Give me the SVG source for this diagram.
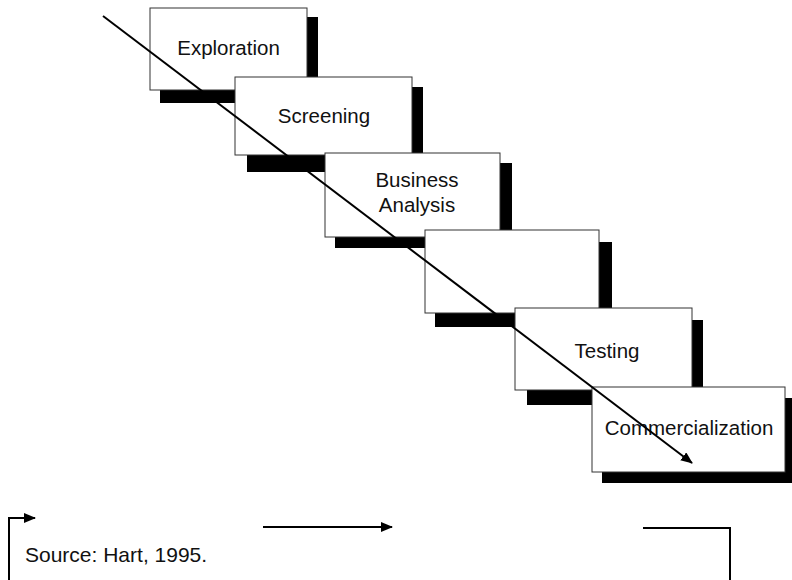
<svg xmlns="http://www.w3.org/2000/svg" width="792" height="580" viewBox="0 0 792 580">
<style>
.box{fill:#fff;stroke:#333;stroke-width:1}
.sh{fill:#000}
.lbl{font-family:"Liberation Sans",Arial,sans-serif;font-size:20.5px;fill:#111;text-anchor:middle}
.src{font-family:"Liberation Sans",Arial,sans-serif;font-size:21px;fill:#111}
.ln{stroke:#000;stroke-width:2;fill:none}
</style>
<defs>
<marker id="ah" markerWidth="12" markerHeight="10" refX="11" refY="5" orient="auto" markerUnits="userSpaceOnUse">
<path d="M0,0 L12,5 L0,10 Z" fill="#000"/>
</marker>
</defs>
<rect width="792" height="580" fill="#fff"/>
<g id="exploration">
<rect class="sh" x="160" y="17" width="158" height="86"/>
<rect class="box" x="150" y="8" width="157" height="82"/>
<text class="lbl" x="228.5" y="55">Exploration</text>
</g>
<g id="screening">
<rect class="sh" x="247" y="87" width="176" height="85"/>
<rect class="box" x="235" y="77" width="177" height="78"/>
<text class="lbl" x="324" y="123">Screening</text>
</g>
<g id="business-analysis">
<rect class="sh" x="335" y="163" width="177" height="85"/>
<rect class="box" x="325" y="153" width="175" height="84"/>
<text class="lbl" x="417" y="187">Business</text>
<text class="lbl" x="417" y="212">Analysis</text>
</g>
<g id="blank-stage">
<rect class="sh" x="435" y="242" width="177" height="85"/>
<rect class="box" x="425" y="230" width="174" height="83"/>
</g>
<g id="testing">
<rect class="sh" x="527" y="320" width="176" height="85"/>
<rect class="box" x="515" y="308" width="177" height="82"/>
<text class="lbl" x="607" y="358">Testing</text>
</g>
<g id="commercialization">
<rect class="sh" x="602" y="398" width="192" height="85"/>
<rect class="box" x="592" y="387" width="193" height="85"/>
<text class="lbl" x="689" y="435">Commercialization</text>
</g>
<g id="connectors">
<line class="ln" x1="103" y1="16" x2="692" y2="463" marker-end="url(#ah)"/>
<polyline class="ln" points="9,580 9,518 35,518" stroke-width="1.5" marker-end="url(#ah)"/>
<line class="ln" x1="263" y1="527" x2="392" y2="527" stroke-width="1.5" marker-end="url(#ah)"/>
<polyline class="ln" points="643,528 730,528 730,580" stroke-width="1.5"/>
</g>
<g id="source">
<text class="src" x="25" y="562">Source: Hart, 1995.</text>
</g>
</svg>
